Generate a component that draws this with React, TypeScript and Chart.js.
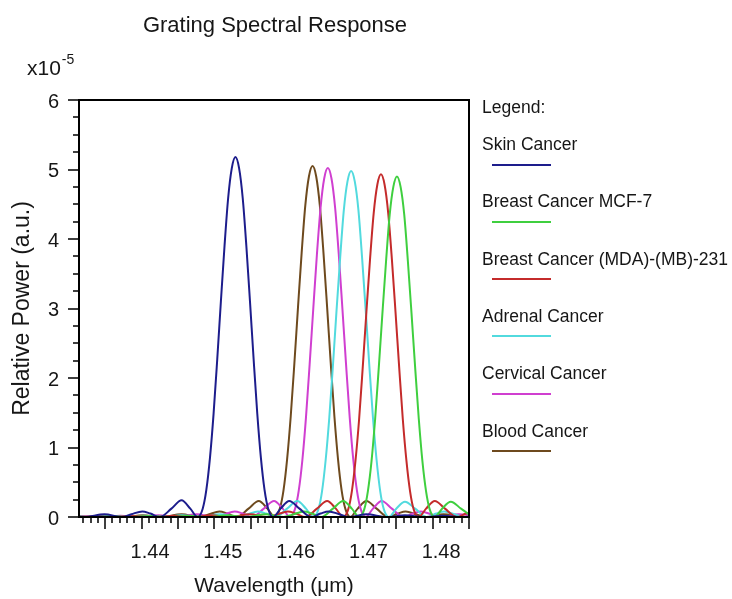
import { useEffect, useRef } from 'react';
import { Chart, registerables } from 'chart.js';

Chart.register(...registerables);

const FONT = "'Liberation Sans', Arial, Helvetica, sans-serif";
const TEXT = '#161616';

const chartTitle = 'Grating Spectral Response';
const xTitle = 'Wavelength (\u03bcm)';
const yTitle = 'Relative Power (a.u.)';
const yExponentBase = 'x10';
const yExponent = '-5';
const legendHeading = 'Legend:';

// Axis ranges (wavelength in µm, power in units of 1e-5)
const xMin = 1.4314;
const xMax = 1.485;
const yMin = 0;
const yMax = 6;

const seriesNames = [
  'Skin Cancer',
  'Breast Cancer MCF-7',
  'Breast Cancer (MDA)-(MB)-231',
  'Adrenal Cancer',
  'Cervical Cancer',
  'Blood Cancer',
];
const seriesColors = ['#1d1d8c', '#3fcf3f', '#c42b2b', '#52dade', '#d03fd0', '#6e4a1e'];

const skinWavelength = [1.4296, 1.4321, 1.4349, 1.4373, 1.4386, 1.4401, 1.4412, 1.4425, 1.4441, 1.4455, 1.4467, 1.4477, 1.4484, 1.4489, 1.4494, 1.4499, 1.4504, 1.4509, 1.4514, 1.4519, 1.4524, 1.4529, 1.4534, 1.4539, 1.4544, 1.4549, 1.4554, 1.4559, 1.4564, 1.4569, 1.4574, 1.4581, 1.4591, 1.4603, 1.4617, 1.4633, 1.4646, 1.4657, 1.4672, 1.4685, 1.4709, 1.4737, 1.4762, 1.4789, 1.4814, 1.4841, 1.4867];
const skinPower = [0.03, 0, 0.04, 0, 0.04, 0.08, 0.05, 0, 0.12, 0.24, 0.12, 0, 0.12, 0.39, 0.85, 1.49, 2.27, 3.10, 3.90, 4.59, 5.02, 5.18, 5.02, 4.59, 3.90, 3.10, 2.27, 1.49, 0.85, 0.39, 0.12, 0, 0.12, 0.23, 0.12, 0, 0.05, 0.08, 0.04, 0, 0.04, 0, 0.025, 0, 0.018, 0, 0.013];

const mcf7Wavelength = [1.4283, 1.4309, 1.4335, 1.4361, 1.4387, 1.4413, 1.4439, 1.4466, 1.4491, 1.4518, 1.4543, 1.4571, 1.4595, 1.4608, 1.4623, 1.4634, 1.4647, 1.4663, 1.4677, 1.4689, 1.4699, 1.4706, 1.4711, 1.4716, 1.4721, 1.4726, 1.4731, 1.4736, 1.4741, 1.4746, 1.4751, 1.4756, 1.4761, 1.4766, 1.4771, 1.4776, 1.4781, 1.4786, 1.4791, 1.4796, 1.4803, 1.4813, 1.4825, 1.4839, 1.4855];
const mcf7Power = [0, 0.008, 0, 0.01, 0, 0.013, 0, 0.018, 0, 0.025, 0, 0.04, 0, 0.035, 0.08, 0.05, 0, 0.12, 0.23, 0.12, 0, 0.11, 0.37, 0.80, 1.41, 2.15, 2.93, 3.68, 4.35, 4.75, 4.90, 4.75, 4.35, 3.68, 2.93, 2.15, 1.41, 0.80, 0.37, 0.11, 0, 0.12, 0.22, 0.12, 0];

const mdaWavelength = [1.4287, 1.4313, 1.4339, 1.4365, 1.4391, 1.4417, 1.4444, 1.4469, 1.4496, 1.4521, 1.4549, 1.4573, 1.4586, 1.4601, 1.4612, 1.4625, 1.4641, 1.4655, 1.4667, 1.4677, 1.4684, 1.4689, 1.4694, 1.4699, 1.4704, 1.4709, 1.4714, 1.4719, 1.4724, 1.4729, 1.4734, 1.4739, 1.4744, 1.4749, 1.4754, 1.4759, 1.4764, 1.4769, 1.4774, 1.4781, 1.4791, 1.4803, 1.4817, 1.4833, 1.4846, 1.4857, 1.4872];
const mdaPower = [0.008, 0, 0.01, 0, 0.013, 0, 0.018, 0, 0.025, 0, 0.04, 0, 0.035, 0.08, 0.05, 0, 0.12, 0.23, 0.12, 0, 0.11, 0.37, 0.81, 1.41, 2.16, 2.95, 3.71, 4.37, 4.78, 4.93, 4.78, 4.37, 3.71, 2.95, 2.16, 1.41, 0.81, 0.37, 0.11, 0, 0.12, 0.23, 0.12, 0, 0.05, 0.08, 0.035];

const adrenalWavelength = [1.4272, 1.4298, 1.4324, 1.4350, 1.4376, 1.4403, 1.4428, 1.4455, 1.4480, 1.4508, 1.4532, 1.4545, 1.4560, 1.4571, 1.4584, 1.4600, 1.4614, 1.4626, 1.4636, 1.4643, 1.4648, 1.4653, 1.4658, 1.4663, 1.4668, 1.4673, 1.4678, 1.4683, 1.4688, 1.4693, 1.4698, 1.4703, 1.4708, 1.4713, 1.4718, 1.4723, 1.4728, 1.4733, 1.4740, 1.4750, 1.4762, 1.4776, 1.4792, 1.4805, 1.4816, 1.4831, 1.4844, 1.4868];
const adrenalPower = [0, 0.01, 0, 0.013, 0, 0.018, 0, 0.025, 0, 0.04, 0, 0.035, 0.08, 0.05, 0, 0.12, 0.23, 0.12, 0, 0.11, 0.37, 0.82, 1.43, 2.18, 2.98, 3.74, 4.42, 4.83, 4.98, 4.83, 4.42, 3.74, 2.98, 2.18, 1.43, 0.82, 0.37, 0.11, 0, 0.12, 0.22, 0.12, 0, 0.05, 0.08, 0.035, 0, 0.04];

const cervicalWavelength = [1.4292, 1.4318, 1.4344, 1.4371, 1.4396, 1.4423, 1.4448, 1.4476, 1.4500, 1.4513, 1.4528, 1.4539, 1.4552, 1.4568, 1.4582, 1.4594, 1.4604, 1.4611, 1.4616, 1.4621, 1.4626, 1.4631, 1.4636, 1.4641, 1.4646, 1.4651, 1.4656, 1.4661, 1.4666, 1.4671, 1.4676, 1.4681, 1.4686, 1.4691, 1.4696, 1.4701, 1.4708, 1.4718, 1.4730, 1.4744, 1.4760, 1.4773, 1.4784, 1.4799, 1.4812, 1.4836, 1.4864];
const cervicalPower = [0, 0.013, 0, 0.018, 0, 0.025, 0, 0.04, 0, 0.035, 0.08, 0.05, 0, 0.12, 0.23, 0.12, 0, 0.12, 0.38, 0.82, 1.44, 2.20, 3.00, 3.78, 4.45, 4.87, 5.02, 4.87, 4.45, 3.78, 3.00, 2.20, 1.44, 0.82, 0.38, 0.12, 0, 0.12, 0.23, 0.12, 0, 0.05, 0.08, 0.035, 0, 0.04, 0];

const bloodWavelength = [1.4297, 1.4323, 1.4350, 1.4375, 1.4402, 1.4427, 1.4455, 1.4479, 1.4492, 1.4507, 1.4518, 1.4531, 1.4547, 1.4561, 1.4573, 1.4583, 1.4590, 1.4595, 1.4600, 1.4605, 1.4610, 1.4615, 1.4620, 1.4625, 1.4630, 1.4635, 1.4640, 1.4645, 1.4650, 1.4655, 1.4660, 1.4665, 1.4670, 1.4675, 1.4680, 1.4687, 1.4697, 1.4709, 1.4723, 1.4739, 1.4752, 1.4763, 1.4778, 1.4791, 1.4815, 1.4843, 1.4868];
const bloodPower = [0.013, 0, 0.018, 0, 0.025, 0, 0.04, 0, 0.035, 0.08, 0.05, 0, 0.12, 0.23, 0.12, 0, 0.12, 0.38, 0.83, 1.45, 2.21, 3.02, 3.80, 4.48, 4.90, 5.05, 4.90, 4.48, 3.80, 3.02, 2.21, 1.45, 0.83, 0.38, 0.12, 0, 0.12, 0.23, 0.12, 0, 0.05, 0.08, 0.035, 0, 0.04, 0, 0.025];

const seriesWavelengths = [skinWavelength, mcf7Wavelength, mdaWavelength, adrenalWavelength, cervicalWavelength, bloodWavelength];
const seriesPowers = [skinPower, mcf7Power, mdaPower, adrenalPower, cervicalPower, bloodPower];

const isMultiple = (v: number, step: number) => {
  const q = v / step;
  return Math.abs(q - Math.round(q)) < 1e-6;
};

// Boxed frame plus major/minor tick marks on the outside of the axes
const frameTicksPlugin = {
  id: 'frameTicks',
  afterDatasetsDraw(chart: any) {
    const { ctx, chartArea: a, scales } = chart;
    const xs = scales.x;
    const ys = scales.y;
    ctx.save();
    ctx.strokeStyle = '#000';
    ctx.lineWidth = 2;
    ctx.strokeRect(a.left, a.top, a.right - a.left, a.bottom - a.top);

    ctx.lineWidth = 1.5;
    ctx.beginPath();
    for (let k = Math.ceil(yMin * 4); k <= Math.floor(yMax * 4); k++) {
      const v = k / 4;
      const y = Math.round(ys.getPixelForValue(v));
      const len = k % 4 === 0 ? 11 : 6;
      ctx.moveTo(a.left, y);
      ctx.lineTo(a.left - len, y);
    }
    const kStart = Math.ceil(xMin * 1000 - 1e-6);
    const kEnd = Math.floor(xMax * 1000 + 1e-6);
    for (let k = kStart; k <= kEnd; k++) {
      const x = Math.round(xs.getPixelForValue(k / 1000));
      const len = k % 5 === 0 ? 12 : 6;
      ctx.moveTo(x, a.bottom);
      ctx.lineTo(x, a.bottom + len);
    }
    ctx.stroke();
    ctx.restore();
  },
};

// Title, axis exponent and the stacked legend on the right
const annotationPlugin = {
  id: 'annotations',
  afterDraw(chart: any) {
    const { ctx, chartArea: a } = chart;
    ctx.save();
    ctx.fillStyle = TEXT;
    ctx.textBaseline = 'alphabetic';

    ctx.font = `22px ${FONT}`;
    ctx.textAlign = 'center';
    ctx.fillText(chartTitle, 275, 32);

    ctx.textAlign = 'left';
    ctx.font = `21px ${FONT}`;
    ctx.fillText(yExponentBase, 27, 75);
    const baseW = ctx.measureText(yExponentBase).width;
    ctx.font = `14px ${FONT}`;
    ctx.fillText(yExponent, 27 + baseW + 1, 64);

    const lx = a.right + 13;
    ctx.font = `17.5px ${FONT}`;
    ctx.fillText(legendHeading, lx, 113);
    const firstBaseline = 150;
    const gap = 57.3;
    chart.data.datasets.forEach((ds: any, i: number) => {
      const base = firstBaseline + i * gap;
      ctx.fillStyle = TEXT;
      ctx.fillText(ds.label, lx, base);
      ctx.strokeStyle = ds.borderColor;
      ctx.lineWidth = 2;
      ctx.beginPath();
      const ly = Math.round(base + 14.5);
      ctx.moveTo(lx + 10, ly);
      ctx.lineTo(lx + 69, ly);
      ctx.stroke();
    });
    ctx.restore();
  },
};

export default function App() {
  const canvasRef = useRef<HTMLCanvasElement | null>(null);

  useEffect(() => {
    const canvas = canvasRef.current;
    if (!canvas) return;

    const datasets = seriesNames.map((name, i) => ({
      label: name,
      data: seriesWavelengths[i].map((w, j) => ({ x: w, y: seriesPowers[i][j] })),
      borderColor: seriesColors[i],
      backgroundColor: seriesColors[i],
      borderWidth: 2,
      pointRadius: 0,
      fill: false,
      cubicInterpolationMode: 'monotone' as const,
    }));

    const chart = new Chart(canvas, {
      type: 'line',
      data: { datasets },
      options: {
        animation: false,
        responsive: false,
        devicePixelRatio: 1,
        layout: { padding: { left: 0, top: 100, right: 263, bottom: 0 } },
        plugins: {
          legend: { display: false },
          title: { display: false },
          tooltip: { enabled: false },
        },
        scales: {
          x: {
            type: 'linear',
            min: xMin,
            max: xMax,
            afterFit: (scale: any) => {
              scale.height = 82;
            },
            grid: { display: false, drawTicks: false },
            border: { display: false },
            ticks: {
              stepSize: 0.01,
              includeBounds: false,
              autoSkip: false,
              maxRotation: 0,
              minRotation: 0,
              labelOffset: 8.5,
              padding: 23,
              color: TEXT,
              font: { family: FONT, size: 20 },
              callback: (v: any) => {
                const n = Number(v);
                return isMultiple(n, 0.01) ? n.toFixed(2) : '';
              },
            },
            title: {
              display: true,
              text: xTitle,
              color: TEXT,
              font: { family: FONT, size: 21 },
              padding: { top: 0, bottom: 0 },
            },
          },
          y: {
            type: 'linear',
            min: yMin,
            max: yMax,
            afterFit: (scale: any) => {
              scale.width = 79;
            },
            grid: { display: false, drawTicks: false },
            border: { display: false },
            ticks: {
              stepSize: 1,
              autoSkip: false,
              padding: 20,
              labelOffset: 2,
              color: TEXT,
              font: { family: FONT, size: 20 },
              callback: (v: any) => String(Number(v)),
            },
            title: {
              display: true,
              text: yTitle,
              color: TEXT,
              font: { family: FONT, size: 23 },
              padding: { top: 9, bottom: 0 },
            },
          },
        },
      },
      plugins: [frameTicksPlugin, annotationPlugin],
    });

    return () => chart.destroy();
  }, []);

  return (
    <div style={{ position: 'fixed', left: 0, top: 0, width: 732, height: 599, background: '#fff' }}>
      <canvas ref={canvasRef} width={732} height={599} style={{ display: 'block', width: 732, height: 599 }} />
    </div>
  );
}
